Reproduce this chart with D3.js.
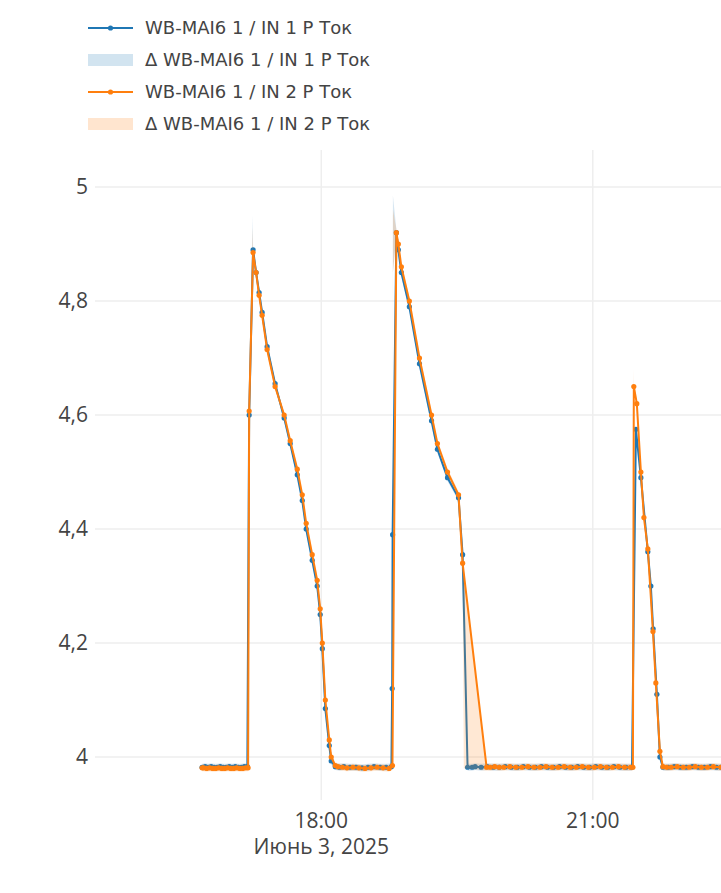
<!DOCTYPE html>
<html><head><meta charset="utf-8">
<script src="https://cdn.jsdelivr.net/npm/d3@7"></script>
<style>body{margin:0;background:#fff}svg{font-family:"Open Sans",sans-serif}</style>
</head><body><svg id="chart" width="721" height="893"></svg>
<script>
// minutes after 16:00 on 3 June 2025, and values
const blueT = [41,43,45,47,49,51,53,55,57,59,61,63,65,67,69,71,72.2,74.8,76.8,78.8,80.8,84.1,89.4,95.4,99.4,104.1,107.4,110,114,117.3,119.3,120.7,122.7,125.3,126.6,129.3,132,135,139,143,147,151,155,159,163,166.5,167,167.3,169.8,171.1,173.1,178.4,185.1,193.1,197,203.7,211,213.7,217,220,222,226,230,234,238,242,246,250,254,258,262,266,270,274,278,282,286,290,294,298,302,306,310,314,318,322,326,328.6,331.9,336.5,338.5,340,342.5,344.5,346.5,350,354,358,362,366,370,374,378,382,385];
const blueV = [3.982,3.983,3.982,3.983,3.982,3.982,3.983,3.982,3.982,3.983,3.982,3.983,3.982,3.982,3.983,3.983,4.6,4.89,4.85,4.815,4.78,4.72,4.655,4.595,4.55,4.495,4.45,4.4,4.345,4.3,4.25,4.19,4.085,4.02,3.993,3.983,3.982,3.983,3.982,3.982,3.981,3.982,3.983,3.982,3.982,3.983,4.12,4.39,4.92,4.89,4.85,4.79,4.69,4.59,4.54,4.49,4.455,4.355,3.982,3.982,3.983,3.982,3.983,3.982,3.982,3.983,3.982,3.982,3.983,3.982,3.982,3.983,3.982,3.982,3.983,3.982,3.982,3.983,3.982,3.982,3.983,3.982,3.982,3.983,3.982,3.982,3.982,4.575,4.49,4.36,4.3,4.225,4.11,4.0,3.982,3.982,3.983,3.982,3.982,3.983,3.982,3.982,3.983,3.982,3.982];
const orangeT = [41,42,44,46,48,50,52,54,56,58,60,62,64,66,68,70,71.5,72.2,74.8,76.8,78.8,80.8,84.1,89.4,95.4,99.4,104.1,107.4,110,114,117.3,119.3,120.7,122.7,125.3,126.6,129.3,131,134,137,141,145,149,153,157,161,165,167.2,169.8,171.1,173.1,178.4,185.1,193.1,197,203.7,211,213.7,229.6,232,235,238,241,245,249,253,257,261,265,269,273,277,281,285,289,293,297,301,305,309,313,317,321,325,326.6,327.2,329.2,331.9,333.9,336.5,339.9,341.8,344.5,346.5,349,352,356,360,364,368,372,376,380,385];
const orangeV = [3.981,3.981,3.98,3.981,3.98,3.98,3.981,3.98,3.98,3.981,3.98,3.98,3.981,3.98,3.98,3.981,3.981,4.607,4.885,4.85,4.81,4.775,4.715,4.65,4.6,4.555,4.505,4.46,4.41,4.355,4.31,4.26,4.2,4.1,4.03,4.0,3.985,3.983,3.982,3.981,3.982,3.981,3.98,3.981,3.982,3.981,3.98,3.985,4.92,4.9,4.86,4.8,4.7,4.6,4.55,4.5,4.46,4.34,3.982,3.982,3.983,3.982,3.982,3.983,3.982,3.982,3.983,3.982,3.982,3.983,3.982,3.982,3.983,3.982,3.982,3.983,3.982,3.982,3.983,3.982,3.982,3.983,3.982,3.982,3.982,4.65,4.62,4.5,4.42,4.365,4.22,4.13,4.01,3.983,3.982,3.982,3.983,3.982,3.982,3.983,3.982,3.982,3.983,3.982,3.982];
// extra extent of the Δ band (minute, low, high)
const blueBandExtra = [[74.5,4.8,4.95],[167.5,4.85,4.985]];
const orangeBandExtra = [[74.5,4.8,4.93],[167.5,4.85,4.96],[214.5,3.98,4.33],[217,3.98,4.27],[327,4.6,4.68]];
const yTicks = [4, 4.2, 4.4, 4.6, 4.8, 5];
const legendLabels = ["WB-MAI6 1 / IN 1 P Ток", "Δ WB-MAI6 1 / IN 1 P Ток", "WB-MAI6 1 / IN 2 P Ток", "Δ WB-MAI6 1 / IN 2 P Ток"];

const BLUE = "#1f77b4", ORANGE = "#ff7f0e";
const base = new Date(2025, 5, 3, 16, 0);
const toDate = m => new Date(base.getTime() + m * 60000);

const svg = d3.select("#chart");
const x = d3.scaleTime().domain([toDate(-30), toDate(385)]).range([95, 721]);
const y = d3.scaleLinear().domain([3.95, 5.065]).range([785.5, 150]);

// grid
svg.append("g").selectAll("line").data(yTicks).join("line")
  .attr("x1", 95).attr("x2", 721).attr("y1", d => y(d)).attr("y2", d => y(d))
  .attr("stroke", "#eee").attr("stroke-width", 1.5);
const xTicks = [toDate(120), toDate(300)];
svg.append("g").selectAll("line").data(xTicks).join("line")
  .attr("x1", d => x(d)).attr("x2", d => x(d)).attr("y1", 150).attr("y2", 800)
  .attr("stroke", "#eee").attr("stroke-width", 1.5);

// y labels
svg.append("g").selectAll("text").data(yTicks).join("text")
  .attr("x", 88).attr("y", d => y(d) + 7).attr("text-anchor", "end")
  .attr("font-size", 21).attr("fill", "#444")
  .text(d => String(+d.toFixed(1)).replace(".", ","));
// x labels
svg.append("g").selectAll("text").data(xTicks).join("text")
  .attr("x", d => x(d)).attr("y", 828).attr("text-anchor", "middle")
  .attr("font-size", 21).attr("fill", "#444").text(d3.timeFormat("%H:%M"));
svg.append("text").attr("x", x(toDate(120))).attr("y", 854).attr("text-anchor", "middle")
  .attr("font-size", 21).attr("fill", "#444").text("Июнь 3, 2025");

function bandData(T, V, extra) {
  const pts = T.map((t, i) => ({ t, lo: V[i] - 0.006, hi: V[i] + 0.006 }));
  extra.forEach(([t, lo, hi]) => pts.push({ t, lo, hi }));
  return pts.sort((a, b) => a.t - b.t);
}

function series(T, V, extra, color) {
  const area = d3.area().x(d => x(toDate(d.t))).y0(d => y(d.lo)).y1(d => y(d.hi));
  svg.append("path").datum(bandData(T, V, extra)).attr("d", area)
    .attr("fill", color).attr("fill-opacity", 0.18);
  const pts = T.map((t, i) => [t, V[i]]);
  const line = d3.line().x(d => x(toDate(d[0]))).y(d => y(d[1]));
  svg.append("path").datum(pts).attr("d", line).attr("fill", "none")
    .attr("stroke", color).attr("stroke-width", 2);
  svg.append("g").selectAll("circle").data(pts).join("circle")
    .attr("cx", d => x(toDate(d[0]))).attr("cy", d => y(d[1])).attr("r", 2.6).attr("fill", color);
}
series(blueT, blueV, blueBandExtra, BLUE);
series(orangeT, orangeV, orangeBandExtra, ORANGE);

// legend
const leg = svg.append("g").attr("font-family", "DejaVu Sans");
legendLabels.forEach((lab, i) => {
  const cy = 28 + i * 32, color = i < 2 ? BLUE : ORANGE;
  if (i % 2 === 0) {
    leg.append("line").attr("x1", 88).attr("x2", 133).attr("y1", cy).attr("y2", cy)
      .attr("stroke", color).attr("stroke-width", 2);
    leg.append("circle").attr("cx", 110.5).attr("cy", cy).attr("r", 2.6).attr("fill", color);
  } else {
    leg.append("rect").attr("x", 88).attr("y", cy - 6).attr("width", 45).attr("height", 12)
      .attr("fill", color).attr("fill-opacity", 0.2);
  }
  leg.append("text").attr("x", 145).attr("y", cy + 6).attr("font-size", 18)
    .attr("fill", "#444").text(lab);
});
</script></body></html>
